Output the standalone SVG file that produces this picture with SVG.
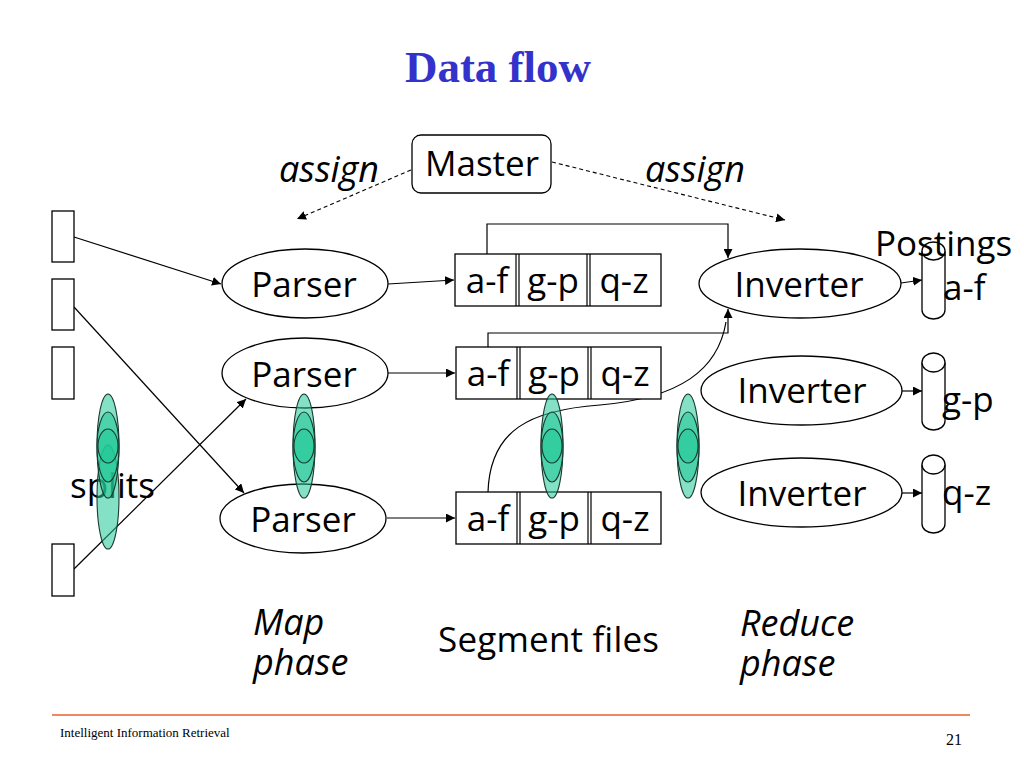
<svg xmlns="http://www.w3.org/2000/svg" width="1024" height="768" viewBox="0 0 1024 768">
<defs>
<marker id="ah" viewBox="0 0 10 10" refX="10" refY="5" markerWidth="9" markerHeight="9" markerUnits="userSpaceOnUse" orient="auto"><path d="M0,0 L10,5 L0,10 z" fill="#000"/></marker>
<style>
.t{font-family:"Open Sans","DejaVu Sans",sans-serif;font-size:35px;fill:#000}
.i{font-family:"Open Sans","DejaVu Sans",sans-serif;font-style:italic;font-size:36px;fill:#000}
.n{fill:#fff;stroke:#000;stroke-width:1.3}
.c{fill:none;stroke:#000;stroke-width:1.2}
.d{fill:none;stroke:#000;stroke-width:1.1;stroke-dasharray:4 3}
.g{fill:#1fc995;fill-opacity:0.55;stroke:#1a3a30;stroke-width:1.1}
</style>
</defs>
<rect width="1024" height="768" fill="#fff"/>
<text x="498" y="82" text-anchor="middle" font-family="Liberation Serif,serif" font-weight="bold" font-size="45" fill="#3333cc">Data flow</text>

<g id="labels">
<text class="i" x="279" y="182">assign</text>
<text class="i" x="645" y="182">assign</text>
<text class="t" x="70" y="498">splits</text>
<text class="i" x="253" y="635">Map</text>
<text class="i" x="253" y="675">phase</text>
<text class="t" x="438" y="652" textLength="221">Segment files</text>
<text class="i" x="740" y="636">Reduce</text>
<text class="i" x="740" y="676">phase</text>
</g>

<g id="connectors">
<path class="d" d="M411,170 L297,219" marker-end="url(#ah)"/>
<path class="d" d="M552,162 L785,220" marker-end="url(#ah)"/>
<path class="c" d="M74,237 L221,284" marker-end="url(#ah)"/>
<path class="c" d="M74,307 L244,493" marker-end="url(#ah)"/>
<path class="c" d="M74,569 L246,399" marker-end="url(#ah)"/>
<path class="c" d="M388,284 L454,280" marker-end="url(#ah)"/>
<path class="c" d="M388,373 L455,373" marker-end="url(#ah)"/>
<path class="c" d="M387,518 L455,518" marker-end="url(#ah)"/>
<path class="c" d="M487,254 L487,224 L728,224 L728,258" marker-end="url(#ah)"/>
<path class="c" d="M488,347 L488,333 L728,333 L728,309" marker-end="url(#ah)"/>
<path class="c" d="M488,492 C490,430 530,410 600,405 C680,398 718,370 726,322"/>
<path class="c" d="M901,283 L922,280" marker-end="url(#ah)"/>
<path class="c" d="M902,391 L922,391" marker-end="url(#ah)"/>
<path class="c" d="M902,493 L922,493" marker-end="url(#ah)"/>
</g>

<g id="master">
<rect class="n" x="412" y="135" width="139" height="58" rx="9" stroke-width="2.5"/>
<text class="t" x="482" y="176" text-anchor="middle">Master</text>
</g>

<g id="split1"><rect class="n" x="52" y="211" width="22" height="51"/></g>
<g id="split2"><rect class="n" x="52" y="279" width="22" height="51"/></g>
<g id="split3"><rect class="n" x="52" y="347" width="22" height="52"/></g>
<g id="split4"><rect class="n" x="52" y="544" width="22" height="52"/></g>

<g id="parser1"><ellipse class="n" cx="305" cy="283.5" rx="83" ry="34.5"/><text class="t" x="304" y="297" text-anchor="middle">Parser</text></g>
<g id="parser2"><ellipse class="n" cx="305" cy="373" rx="83" ry="35"/><text class="t" x="304" y="387" text-anchor="middle">Parser</text></g>
<g id="parser3"><ellipse class="n" cx="303" cy="518.5" rx="83" ry="34.5"/><text class="t" x="303" y="532" text-anchor="middle">Parser</text></g>

<g id="segment1">
<rect class="n" x="455" y="254" width="206" height="52"/>
<path class="c" d="M516,254V306M519,254V306M587,254V306M590,254V306"/>
<text class="t" x="487" y="293" text-anchor="middle">a-f</text>
<text class="t" x="553" y="293" text-anchor="middle">g-p</text>
<text class="t" x="624" y="293" text-anchor="middle">q-z</text>
</g>
<g id="segment2">
<rect class="n" x="456" y="347" width="205" height="52"/>
<path class="c" d="M517,347V399M520,347V399M588,347V399M591,347V399"/>
<text class="t" x="488" y="386" text-anchor="middle">a-f</text>
<text class="t" x="554" y="386" text-anchor="middle">g-p</text>
<text class="t" x="625" y="386" text-anchor="middle">q-z</text>
</g>
<g id="segment3">
<rect class="n" x="456" y="492" width="205" height="52"/>
<path class="c" d="M517,492V544M520,492V544M588,492V544M591,492V544"/>
<text class="t" x="488" y="531" text-anchor="middle">a-f</text>
<text class="t" x="554" y="531" text-anchor="middle">g-p</text>
<text class="t" x="625" y="531" text-anchor="middle">q-z</text>
</g>

<g id="inverter1"><ellipse class="n" cx="800" cy="283.5" rx="101" ry="34.5"/><text class="t" x="799" y="297" text-anchor="middle">Inverter</text></g>
<g id="inverter2"><ellipse class="n" cx="801.5" cy="390.5" rx="100.5" ry="34.5"/><text class="t" x="802" y="403" text-anchor="middle">Inverter</text></g>
<g id="inverter3"><ellipse class="n" cx="801.5" cy="492.5" rx="100.5" ry="34.5"/><text class="t" x="802" y="506" text-anchor="middle">Inverter</text></g>

<g id="postings-af">
<path class="n" d="M922,251 V310 A11.5,9 0 0 0 945,310 V251"/>
<ellipse class="n" cx="933.5" cy="251" rx="11.5" ry="9"/>
<text class="t" x="875" y="256">Postings</text>
<text class="t" x="943" y="300">a-f</text>
</g>
<g id="postings-gp">
<path class="n" d="M922,362.5 V421 A11.5,9 0 0 0 945,421 V362.5"/>
<ellipse class="n" cx="933.5" cy="362.5" rx="11.5" ry="9.5"/>
<text class="t" x="942" y="412">g-p</text>
</g>
<g id="postings-qz">
<path class="n" d="M922,464.5 V524 A11.5,9 0 0 0 945,524 V464.5"/>
<ellipse class="n" cx="933.5" cy="464.5" rx="11.5" ry="9.5"/>
<text class="t" x="942" y="505">q-z</text>
</g>

<g id="ovals-splits">
<ellipse class="g" cx="108" cy="497" rx="11" ry="52"/>
<ellipse class="g" cx="108" cy="446" rx="11" ry="52"/>
<ellipse class="g" cx="108" cy="447" rx="11" ry="35"/>
<ellipse class="g" cx="108" cy="446" rx="10" ry="17"/>
</g>
<g id="ovals-map">
<ellipse class="g" cx="304" cy="446" rx="11" ry="52"/>
<ellipse class="g" cx="304" cy="447" rx="11" ry="35"/>
<ellipse class="g" cx="304" cy="446" rx="10" ry="17"/>
</g>
<g id="ovals-segment">
<ellipse class="g" cx="552" cy="446" rx="11" ry="52"/>
<ellipse class="g" cx="552" cy="447" rx="11" ry="35"/>
<ellipse class="g" cx="552" cy="446" rx="10" ry="17"/>
</g>
<g id="ovals-reduce">
<ellipse class="g" cx="688" cy="446" rx="11" ry="52"/>
<ellipse class="g" cx="688" cy="447" rx="11" ry="35"/>
<ellipse class="g" cx="688" cy="446" rx="10" ry="17"/>
</g>

<g id="footer">
<line x1="52" y1="715" x2="970" y2="715" stroke="#e8602c" stroke-width="1.5"/>
<text x="60" y="737" font-family="Liberation Serif,serif" font-size="13" fill="#000">Intelligent Information Retrieval</text>
<text x="962" y="745" text-anchor="end" font-family="Liberation Serif,serif" font-size="16" fill="#000">21</text>
</g>
</svg>
